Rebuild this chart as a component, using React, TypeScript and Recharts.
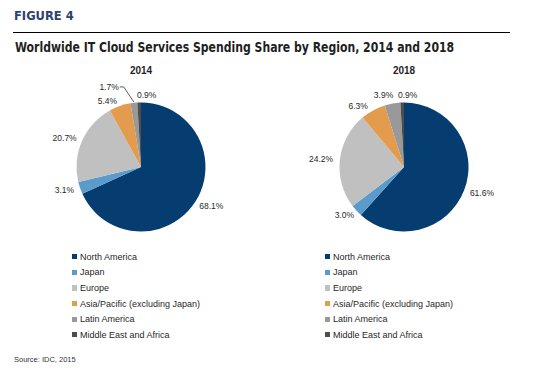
import React from "react";
import { Cell, Legend, Pie, PieChart } from "recharts";

const regions = [
  "North America",
  "Japan",
  "Europe",
  "Asia/Pacific (excluding Japan)",
  "Latin America",
  "Middle East and Africa"
];
const share2014 = [68.1, 3.1, 20.7, 5.4, 1.7, 0.9];
const share2018 = [61.6, 3.0, 24.2, 6.3, 3.9, 0.9];
const years = ["2014", "2018"];

const colors = ["#053d70", "#5b9bcb", "#c0c0c0", "#e39c4d", "#999999", "#4d4d4d"];
const ink = "#1f1f1f";
const arial = "'Liberation Sans', Arial, sans-serif";

// small manual nudges so the crowded top labels don't collide (like the original)
const nudge2014 = [[0, 0], [0, 0], [0, 0], [-7, 2], [-23, -9], [8, -1]];
const nudge2018 = [[0, 0], [0, 0], [0, 0], [-7, 2], [-6, -2], [6, -1]];

const RAD = Math.PI / 180;

function makeLabel(nudge: number[][], leaderIndex: number) {
  return (props: any) => {
    const { cx, cy, midAngle, outerRadius, value, index } = props;
    const text = `${Number(value).toFixed(1)}%`;
    const w = text.length * 4.8;
    const r = outerRadius + 7;
    const sin = Math.cos(-midAngle * RAD);
    const cos = Math.sin(-midAngle * RAD);
    const px = cx + r * sin;
    const py = cy + r * cos;
    const x = px + (w / 2) * sin + nudge[index][0];
    const y = py + nudge[index][1];
    const ex = cx + (outerRadius + 1) * sin;
    const ey = cy + (outerRadius + 1) * cos;
    return (
      <g key={`lbl-${index}`}>
        {index === leaderIndex && (
          <polyline
            points={`${x + w / 2 + 1},${y} ${x + w / 2 + 5},${y} ${ex},${ey}`}
            fill="none"
            stroke="#333"
            strokeWidth={0.8}
          />
        )}
        <text x={x} y={y} textAnchor="middle" dominantBaseline="central" fontSize={8.5} fontFamily={arial} fill={ink}>
          {text}
        </text>
      </g>
    );
  };
}

function LegendList({ payload }: any) {
  const items = payload || [];
  return (
    <ul style={{ listStyle: "none", margin: 0, padding: 0 }}>
      {regions.map((name, i) => {
        const entry = items.find((p: any) => p.value === name);
        return (
          <li key={name} style={{ height: 15.6, display: "flex", alignItems: "center", fontFamily: arial, fontSize: 9, color: ink, whiteSpace: "nowrap" }}>
            <span style={{ width: 5.3, height: 5.3, background: (entry && entry.color) || colors[i], marginRight: 2.7, display: "inline-block" }} />
            {name}
          </li>
        );
      })}
    </ul>
  );
}

function YearPie({ values, nudge, leaderIndex, cx, legendLeft }: { values: number[]; nudge: number[][]; leaderIndex: number; cx: number; legendLeft: number }) {
  const rows = regions.map((name, i) => ({ name, value: values[i] }));
  return (
    <PieChart width={272} height={290} margin={{ top: 0, right: 0, bottom: 0, left: 0 }}>
      <Pie
        data={rows}
        dataKey="value"
        nameKey="name"
        cx={cx}
        cy={107}
        outerRadius={64.5}
        startAngle={90}
        endAngle={-270}
        stroke="none"
        label={makeLabel(nudge, leaderIndex)}
        labelLine={false}
        isAnimationActive={false}
      >
        {rows.map((row, i) => <Cell key={row.name} fill={colors[i]} />)}
      </Pie>
      <Legend
        layout="vertical"
        align="center"
        verticalAlign="bottom"
        content={LegendList}
        wrapperStyle={{ left: legendLeft, top: 189, bottom: "auto", width: 200 }}
      />
    </PieChart>
  );
}

export default function App() {
  const abs = (left: number, top: number): React.CSSProperties => ({ position: "absolute", left, top });
  return (
    <div style={{ position: "absolute", left: 0, top: 0, width: 545, height: 371, background: "#fff", overflow: "hidden" }}>
      <div style={{ ...abs(14, 9), fontFamily: "'DejaVu Sans', sans-serif", fontWeight: "bold", fontSize: 11.5, color: "#2f4170", whiteSpace: "nowrap" }}>
        FIGURE 4
      </div>
      <div style={{ ...abs(13, 32), width: 497, height: 1, background: "#000" }} />
      <div
        style={{
          ...abs(15, 39),
          fontFamily: "'DejaVu Sans Condensed', 'DejaVu Sans', sans-serif",
          fontWeight: "bold",
          fontSize: 13.5,
          color: ink,
          whiteSpace: "nowrap",
          transform: "scaleX(0.896)",
          transformOrigin: "left center"
        }}
      >
        Worldwide IT Cloud Services Spending Share by Region, 2014 and 2018
      </div>
      <div style={{ ...abs(111, 65), width: 60, textAlign: "center", fontFamily: arial, fontWeight: "bold", fontSize: 10, color: ink }}>{years[0]}</div>
      <div style={{ ...abs(374, 65), width: 60, textAlign: "center", fontFamily: arial, fontWeight: "bold", fontSize: 10, color: ink }}>{years[1]}</div>
      <div style={abs(0, 60)}>
        <YearPie values={share2014} nudge={nudge2014} leaderIndex={4} cx={141} legendLeft={72} />
      </div>
      <div style={abs(272, 60)}>
        <YearPie values={share2018} nudge={nudge2018} leaderIndex={-1} cx={132} legendLeft={53} />
      </div>
      <div style={{ ...abs(14, 355), fontFamily: arial, fontSize: 7.5, color: "#333", whiteSpace: "nowrap" }}>Source: IDC, 2015</div>
    </div>
  );
}
